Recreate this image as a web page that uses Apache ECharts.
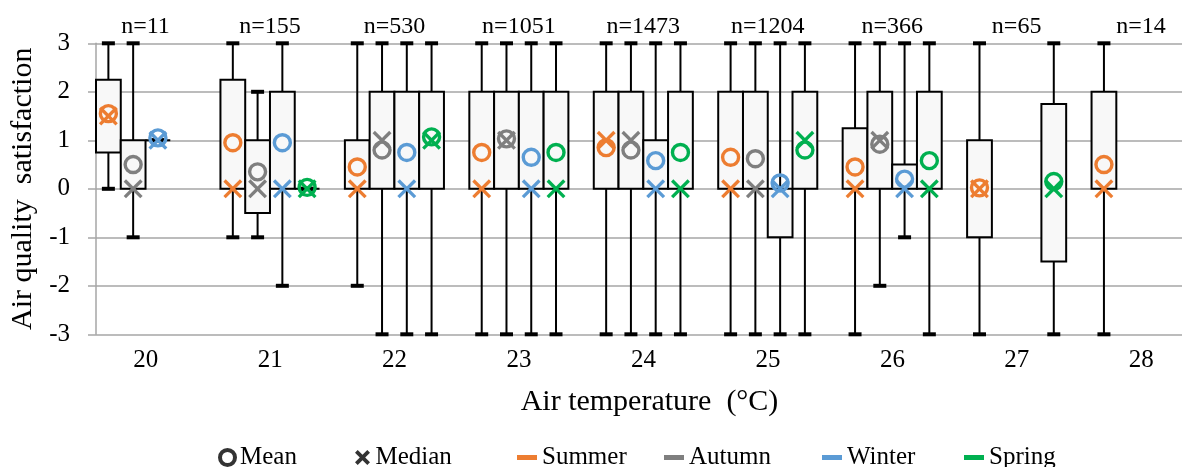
<!DOCTYPE html>
<html><head><meta charset="utf-8">
<script src="https://cdn.jsdelivr.net/npm/echarts@6/dist/echarts.min.js"></script>
<style>html,body{margin:0;padding:0;background:#fff}#c{width:1182px;height:467px}</style>
</head><body><div id="c"></div>
<script>
const temperatures = ['20','21','22','23','24','25','26','27','28'];
const sampleCounts = [11, 155, 530, 1051, 1473, 1204, 366, 65, 14];
const seasons = ['Summer', 'Autumn', 'Winter', 'Spring'];
const seasonColors = ['#ED7D31', '#7F7F7F', '#5B9BD5', '#00B050'];
const yTicks = [-3, -2, -1, 0, 1, 2, 3];

// each entry: [min, q1, median, q3, max]  (null = no data)
const summerBox = [[0,0.75,1.5,2.25,3],[-1,0,0,2.25,3],[-2,0,0,1,3],[-3,0,0,2,3],[-3,0,1,2,3],[-3,0,0,2,3],[-3,0,0,1.25,3],[-3,-1,0,1,3],[-3,0,0,2,3]];
const summerMean = [1.55, 0.95, 0.45, 0.75, 0.85, 0.65, 0.45, 0.02, 0.5];

const autumnBox = [[-1,0,0,1,3],[-1,-0.5,0,1,2],[-3,0,1,2,3],[-3,0,1,2,3],[-3,0,1,2,3],[-3,0,0,2,3],[-2,0,1,2,3],null,null];
const autumnMean = [0.5, 0.35, 0.8, 1.03, 0.8, 0.62, 0.92, null, null];

const winterBox = [[1,1,1,1,1],[-2,0,0,2,3],[-3,0,0,2,3],[-3,0,0,2,3],[-3,0,0,1,3],[-3,-1,0,0,3],[-1,0,0,0.5,3],null,null];
const winterMean = [1.05, 0.95, 0.75, 0.65, 0.58, 0.12, 0.2, null, null];

const springBox = [null,[0,0,0,0,0],[-3,0,1,2,3],[-3,0,0,2,3],[-3,0,0,2,3],[-3,0,1,2,3],[-3,0,0,2,3],[-3,-1.5,0,1.75,3],null];
const springMean = [null, 0.03, 1.07, 0.75, 0.75, 0.8, 0.58, 0.15, null];

const boxes = [summerBox, autumnBox, winterBox, springBox];
const means = [summerMean, autumnMean, winterMean, springMean];

const FONT = 'Liberation Serif';
const GROUP_FRAC = 0.796;

function seasonRender(sIdx, color) {
  return function (params, api) {
    const i = api.value(0);
    const bw = api.size([1, 0])[0];
    const cx = api.coord([i, 0])[0];
    const slot = bw * GROUP_FRAC / 4;
    const x0 = cx - bw / 2 + slot * sIdx;
    const xc = x0 + slot / 2;
    const y = k => api.coord([i, api.value(k)])[1];
    const yMin = y(1), yQ1 = y(2), yMed = y(3), yQ3 = y(4), yMax = y(5), yMean = y(6);
    const ch = 6.5, m = 8.3;
    return {
      type: 'group',
      children: [
        { type: 'line', shape: { x1: xc, y1: yMax, x2: xc, y2: yMin }, style: { stroke: '#000', lineWidth: 2 } },
        { type: 'line', shape: { x1: xc - ch, y1: yMax, x2: xc + ch, y2: yMax }, style: { stroke: '#000', lineWidth: 4 } },
        { type: 'line', shape: { x1: xc - ch, y1: yMin, x2: xc + ch, y2: yMin }, style: { stroke: '#000', lineWidth: 4 } },
        { type: 'rect', shape: { x: x0, y: yQ3, width: slot, height: yQ1 - yQ3 }, style: { fill: '#f8f8f8', stroke: '#000', lineWidth: 2 } },
        { type: 'circle', shape: { cx: xc, cy: yMean, r: 8 }, style: { fill: 'none', stroke: color, lineWidth: 3.4 } },
        { type: 'line', shape: { x1: xc - m, y1: yMed - m, x2: xc + m, y2: yMed + m }, style: { stroke: color, lineWidth: 3.3 } },
        { type: 'line', shape: { x1: xc - m, y1: yMed + m, x2: xc + m, y2: yMed - m }, style: { stroke: color, lineWidth: 3.3 } }
      ]
    };
  };
}

const seasonSeries = seasons.map((s, k) => ({
  name: s,
  type: 'custom',
  coordinateSystem: 'cartesian2d',
  itemStyle: { color: seasonColors[k] },
  encode: { x: 0, y: [1, 2, 3, 4, 5, 6] },
  renderItem: seasonRender(k, seasonColors[k]),
  data: temperatures.map((t, i) => boxes[k][i] ? [i].concat(boxes[k][i], [means[k][i]]) : null).filter(Boolean),
  silent: true,
  clip: false,
  z: 3
}));

const countSeries = {
  type: 'custom',
  coordinateSystem: 'cartesian2d',
  silent: true,
  clip: false,
  encode: { x: 0, y: 1 },
  data: sampleCounts.map((n, i) => [i, yTicks[yTicks.length - 1], n]),
  renderItem: function (params, api) {
    const i = api.value(0);
    const bw = api.size([1, 0])[0];
    const cx = api.coord([i, 0])[0];
    const gx = cx - bw / 2 + bw * GROUP_FRAC / 2;
    const gy = api.coord([i, api.value(1)])[1];
    return {
      type: 'text', x: gx, y: gy - 17,
      style: { text: 'n=' + api.value(2), fill: '#000', font: '24px "' + FONT + '"', align: 'center', verticalAlign: 'middle' }
    };
  },
  z: 4
};

const legendBase = { top: 440, selectedMode: false, itemGap: 0, textStyle: { fontFamily: FONT, fontSize: 25, color: '#000' } };
const xPath = 'path://M1.8,0L5,3.2L8.2,0L10,1.8L6.8,5L10,8.2L8.2,10L5,6.8L1.8,10L0,8.2L3.2,5L0,1.8Z';

const option = {
  backgroundColor: '#fff',
  animation: false,
  grid: { left: 96, right: -34, top: 43.3, bottom: 132.7, containLabel: false, outerBoundsMode: 'none' },
  xAxis: {
    type: 'category',
    data: temperatures,
    boundaryGap: true,
    axisLine: { show: false },
    axisTick: { show: false },
    splitLine: { show: false },
    axisLabel: { fontFamily: FONT, fontSize: 25, color: '#000', margin: 14, padding: [0, 25, 0, 0] },
    name: 'Air temperature  (°C)',
    nameLocation: 'middle',
    nameGap: 53,
    nameTextStyle: { fontFamily: FONT, fontSize: 30, color: '#000', padding: [0, 13, 0, 0] }
  },
  yAxis: {
    type: 'value',
    min: yTicks[0], max: yTicks[yTicks.length - 1], interval: 1,
    axisLine: { show: true, lineStyle: { color: '#a6a6a6', width: 1.5 } },
    axisTick: { show: true, length: 8, lineStyle: { color: '#a6a6a6', width: 1.5 } },
    splitLine: { show: true, lineStyle: { color: '#a6a6a6', width: 1.5 } },
    axisLabel: { fontFamily: FONT, fontSize: 25, color: '#000', margin: 26 },
    name: 'Air quality  satisfaction',
    nameLocation: 'middle',
    nameRotate: 90,
    nameGap: 56,
    nameTextStyle: { fontFamily: FONT, fontSize: 30, color: '#000' }
  },
  legend: [
    Object.assign({}, legendBase, { left: 213, itemWidth: 15, itemHeight: 15,
      data: [{ name: 'Mean', icon: 'circle', itemStyle: { color: '#fff', borderColor: '#000', borderWidth: 4 } }] }),
    Object.assign({}, legendBase, { left: 350, itemWidth: 16, itemHeight: 15,
      data: [{ name: 'Median', icon: xPath, itemStyle: { color: '#000', borderWidth: 0 } }] })
  ].concat(seasons.map((s, k) => Object.assign({}, legendBase, {
    left: [512, 659, 817, 959][k], itemWidth: 20, itemHeight: 5,
    data: [{ name: s, icon: 'rect', itemStyle: { color: seasonColors[k], borderWidth: 0 } }]
  }))),
  series: seasonSeries.concat([
    countSeries,
    { name: 'Mean', type: 'scatter', data: [] },
    { name: 'Median', type: 'scatter', data: [] }
  ])
};

const chart = echarts.init(document.getElementById('c'), null, { renderer: 'canvas' });
chart.setOption(option);
</script>
</body></html>
